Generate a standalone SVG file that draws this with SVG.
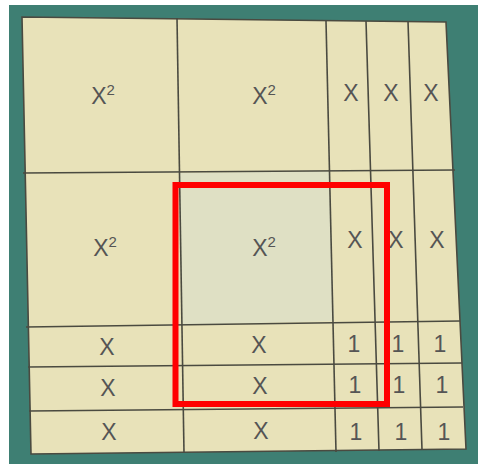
<svg xmlns="http://www.w3.org/2000/svg" width="478" height="464" viewBox="0 0 478 464">
<style>
.t{font-family:"Liberation Sans",Arial,sans-serif;font-size:23px;fill:#555;text-anchor:middle}
.s{font-size:15px}
.g{stroke:#4a4a40;stroke-width:1.6;fill:none}
</style>
<rect width="478" height="464" fill="#ffffff"/>
<rect x="9" y="5" width="469" height="459" fill="#3e7f73"/>
<polygon points="22,17 446,22 466,449 31,454" fill="#e8e2b9" stroke="#4a4a40" stroke-width="1.6"/>
<polygon points="179,173 329,171 334,321 182,325" fill="#dfe0c4"/>
<g id="lines" class="g">
<line x1="177" y1="18" x2="184" y2="453"/>
<line x1="326" y1="21" x2="336" y2="452"/>
<line x1="366" y1="21" x2="379" y2="451"/>
<line x1="408" y1="21" x2="422" y2="450"/>
<line x1="23" y1="173" x2="455" y2="170"/>
<line x1="26" y1="327" x2="460" y2="321"/>
<line x1="28" y1="367" x2="462" y2="363"/>
<line x1="29" y1="411" x2="463" y2="407"/>
</g>
<g id="x2a"><text class="t" x="103" y="104">X<tspan class="s" dy="-9">2</tspan></text></g>
<g id="x2b"><text class="t" x="264" y="104">X<tspan class="s" dy="-9">2</tspan></text></g>
<g id="x2c"><text class="t" x="105" y="256">X<tspan class="s" dy="-9">2</tspan></text></g>
<g id="x2d"><text class="t" x="264" y="256">X<tspan class="s" dy="-9">2</tspan></text></g>
<g id="xr1"><text class="t" x="351" y="101">X</text><text class="t" x="391" y="101">X</text><text class="t" x="431" y="101">X</text></g>
<g id="xr2"><text class="t" x="355" y="248">X</text><text class="t" x="396" y="248">X</text><text class="t" x="437" y="248">X</text></g>
<g id="xl"><text class="t" x="107" y="355">X</text><text class="t" x="108" y="396">X</text><text class="t" x="109" y="440">X</text></g>
<g id="xm"><text class="t" x="259" y="353">X</text><text class="t" x="260" y="394">X</text><text class="t" x="261" y="439">X</text></g>
<g id="ones">
<text class="t" x="354" y="352">1</text><text class="t" x="398" y="352">1</text><text class="t" x="440" y="352">1</text>
<text class="t" x="355" y="393">1</text><text class="t" x="399" y="393">1</text><text class="t" x="442" y="393">1</text>
<text class="t" x="356" y="440">1</text><text class="t" x="401" y="440">1</text><text class="t" x="444" y="440">1</text>
</g>
<rect id="highlight" x="175.5" y="185" width="211.5" height="219" fill="none" stroke="#ff0000" stroke-width="6"/>
</svg>
